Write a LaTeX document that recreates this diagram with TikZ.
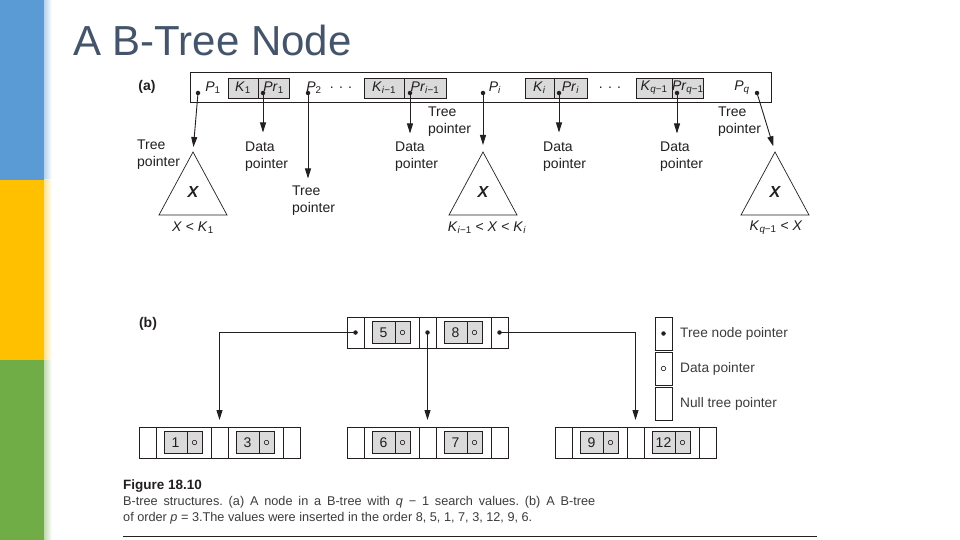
\documentclass[tikz,border=0pt]{standalone}
\usepackage{fontspec}
\setmainfont{Liberation Sans}
\usetikzlibrary{arrows.meta,
                positioning
            }

\definecolor{barblue}{HTML}{5B9BD5}
\definecolor{baryellow}{HTML}{FFC000}
\definecolor{bargreen}{HTML}{70AD47}
\definecolor{titlegray}{HTML}{44546A}
\definecolor{cellgray}{HTML}{DADADA}
\definecolor{ink}{HTML}{231F20}
\definecolor{capgray}{HTML}{3C3C3C}

\newcommand\ptrfont{\fontsize{14}{17}\selectfont}
\newcommand\capfont{\fontsize{12.7}{16}\selectfont\frenchspacing}
\newcommand\sv[2]{\textit{#1}\textsubscript{#2}}

\tikzset{
    cellframe/.style={draw=ink, line width=0.9pt, outer sep=0pt, inner sep=0pt},
    graycell/.style={cellframe, fill=cellgray, minimum height=20, font=\ptrfont, text=ink},
    ptrcell/.style={cellframe, minimum width=17, minimum height=31},
    datacell/.style={cellframe, minimum width=55, minimum height=31},
    keycell/.style={cellframe, fill=cellgray, minimum width=23, minimum height=22, font=\ptrfont, text=ink},
    dpcell/.style={cellframe, fill=cellgray, minimum width=15, minimum height=22},
    ptrdot/.style={circle, fill=ink, inner sep=0pt, minimum size=4.5},
    datadot/.style={circle, draw=ink, line width=0.6pt, inner sep=0pt, minimum size=4.5},
    arr/.style={draw=ink, line width=0.9pt, -{Triangle[length=10pt, width=6pt]}},
    subtree/.style={draw=ink, line width=0.7pt},
    ptrlabel/.style={font=\ptrfont, text=ink, align=left, inner sep=0pt, anchor=north west},
    freelabel/.style={font=\ptrfont, text=ink},
    legtext/.style={font=\fontsize{13.7}{16}\selectfont, text=capgray, inner sep=0pt, anchor=west}
}

\begin{document}
\begin{tikzpicture}[x=1pt, y=-1pt]
    \useasboundingbox (0,0) rectangle (960,540);
    \fill[white] (0,0) rectangle (960,540);

    \fill[barblue] (0,0) rectangle (44,180);
    \fill[baryellow] (0,180) rectangle (44,360);
    \fill[bargreen] (0,360) rectangle (44,540);
    \shade[left color=barblue!45, right color=white] (44,0) rectangle (52,180);
    \shade[left color=baryellow!45, right color=white] (44,180) rectangle (52,360);
    \shade[left color=bargreen!45, right color=white] (44,360) rectangle (52,540);

    \node[font=\fontsize{42}{42}\selectfont, text=titlegray, anchor=base west, inner sep=0pt] (title) at (73,56) {A B-Tree Node};

    \node[font=\bfseries\ptrfont, text=ink] (alabel) at (147,87) {(a)};
    \node[cellframe, minimum width=581, minimum height=30, anchor=north west] (anode) at (190,72) {};

    \node[graycell, minimum width=30, anchor=west] (k1) at (228,88) {\sv{K}{1}};
    \node[graycell, minimum width=31, right=0pt of k1] (pr1) {\sv{Pr}{1}};
    \node[graycell, minimum width=40, anchor=west] (ki1) at (364,88) {\sv{K}{\textit{i}−1}};
    \node[graycell, minimum width=42, right=0pt of ki1] (pri1) {\sv{Pr}{\textit{i}−1}};
    \node[graycell, minimum width=29, anchor=west] (ki) at (525,88) {\sv{K}{\textit{i}}};
    \node[graycell, minimum width=33, right=0pt of ki] (pri) {\sv{Pr}{\textit{i}}};
    \node[graycell, minimum width=36, anchor=west] (kq) at (636,88) {\sv{K}{\textit{q}−1}};
    \node[graycell, minimum width=27, right=0pt of kq] (prq) {\sv{Pr}{\textit{q}−1}};

    \node[freelabel] (p1) at (213,88) {\sv{P}{1}};
    \node[freelabel] (p2) at (314,88) {\sv{P}{2}};
    \node[freelabel] (dotsa) at (341,88) {. . .};
    \node[freelabel] (pi) at (495,88) {\sv{P}{\textit{i}}};
    \node[freelabel] (dotsb) at (610,88) {. . .};
    \node[freelabel] (pq) at (742,88) {\sv{P}{\textit{q}}};

    \node[ptrdot] (p1-dot) at (198,93) {};
    \node[ptrdot] (p2-dot) at (308,93) {};
    \node[ptrdot] (pi-dot) at (483,93) {};
    \node[ptrdot] (pq-dot) at (757,93) {};
    \node[ptrdot] (pr1-dot) at ([xshift=5pt, yshift=-5pt]pr1.west) {};
    \node[ptrdot] (pri1-dot) at ([xshift=6pt, yshift=-5pt]pri1.west) {};
    \node[ptrdot] (pri-dot) at ([xshift=5pt, yshift=-5pt]pri.west) {};
    \node[ptrdot] (prq-dot) at ([xshift=5pt, yshift=-5pt]prq.west) {};

    \node[ptrlabel] (t1-lbl) at (137,139.5) {Tree\\pointer};
    \node[ptrlabel] (pr1-lbl) at (245,141.5) {Data\\pointer};
    \node[ptrlabel] (p2-lbl) at (292,185.5) {Tree\\pointer};
    \node[ptrlabel] (pri1-lbl) at (395,141.5) {Data\\pointer};
    \node[ptrlabel] (pi-lbl) at (428,106.5) {Tree\\pointer};
    \node[ptrlabel] (pri-lbl) at (543,141.5) {Data\\pointer};
    \node[ptrlabel] (prq-lbl) at (660,141.5) {Data\\pointer};
    \node[ptrlabel] (pq-lbl) at (718,106.5) {Tree\\pointer};

    \coordinate (t1) at (193,152);
    \coordinate (t2) at (483,152);
    \coordinate (t3) at (775,152);
    \draw[subtree] (t1) -- ++(34,63) -- ++(-68,0) -- cycle;
    \draw[subtree] (t2) -- ++(34,63) -- ++(-68,0) -- cycle;
    \draw[subtree] (t3) -- ++(34,63) -- ++(-68,0) -- cycle;
    \node[font=\bfseries\itshape\fontsize{16}{16}\selectfont, text=ink] (t1-x) at (193,192) {X};
    \node[font=\bfseries\itshape\fontsize{16}{16}\selectfont, text=ink] (t2-x) at (483,192) {X};
    \node[font=\bfseries\itshape\fontsize{16}{16}\selectfont, text=ink] (t3-x) at (775,192) {X};
    \node[freelabel] (t1-cond) at (193,228) {\textit{X} < \sv{K}{1}};
    \node[freelabel] (t2-cond) at (487,228) {\sv{K}{\textit{i}−1} < \textit{X} < \sv{K}{\textit{i}}};
    \node[freelabel] (t3-cond) at (776,228) {\sv{K}{\textit{q}−1} < \textit{X}};

    \draw[arr, shorten >=5pt] (p1-dot.center) -- (t1);
    \draw[arr, shorten >=9pt] (pr1-dot.center) -- (pr1-dot |- pr1-lbl.north);
    \draw[arr, shorten >=7pt] (p2-dot.center) -- (p2-dot |- p2-lbl.north);
    \draw[arr, shorten >=8pt] (pri1-dot.center) -- (pri1-dot |- pri1-lbl.north);
    \draw[arr, shorten >=7pt] (pi-dot.center) -- (t2);
    \draw[arr, shorten >=9pt] (pri-dot.center) -- (pri-dot |- pri-lbl.north);
    \draw[arr, shorten >=8pt] (prq-dot.center) -- (prq-dot |- prq-lbl.north);
    \draw[arr, shorten >=6pt] (pq-dot.center) -- (t3);

    \node[font=\bfseries\ptrfont, text=ink] (blabel) at (148,324) {(b)};

    \foreach \n/\x/\y/\ka/\kb in {root/347/317/5/8, leafa/139/427/1/3, leafb/347/427/6/7, leafc/555/427/9/12} {
        \node[ptrcell, anchor=north west] (\n-p0) at (\x,\y) {};
        \node[datacell, right=0pt of \n-p0] (\n-d1) {};
        \node[ptrcell, right=0pt of \n-d1] (\n-p1) {};
        \node[datacell, right=0pt of \n-p1] (\n-d2) {};
        \node[ptrcell, right=0pt of \n-d2] (\n-p2) {};
        \node[keycell, right=8pt of \n-d1.west] (\n-k1) {\ka};
        \node[dpcell, right=0pt of \n-k1] (\n-r1) {};
        \node[keycell, right=8pt of \n-d2.west] (\n-k2) {\kb};
        \node[dpcell, right=0pt of \n-k2] (\n-r2) {};
        \node[datadot] (\n-o1) at (\n-r1) {};
        \node[datadot] (\n-o2) at (\n-r2) {};
    }
    \foreach \c in {p0,p1,p2}
        \node[ptrdot] (root-\c-dot) at (root-\c) {};

    \draw[arr, shorten >=7pt] (root-p0-dot.center) -| (leafa-p1.north);
    \draw[arr, shorten >=7pt] (root-p1-dot.center) -- (leafb-p1.north);
    \draw[arr, shorten >=7pt] (root-p2-dot.center) -| (leafc-p1.north);

    \node[ptrcell, minimum height=33, anchor=north west] (lg-tree) at (655,317) {};
    \node[ptrcell, minimum height=33, below=2pt of lg-tree] (lg-data) {};
    \node[ptrcell, minimum height=33, below=2pt of lg-data] (lg-null) {};
    \node[ptrdot] (lg-tree-dot) at (lg-tree) {};
    \node[datadot] (lg-data-dot) at (lg-data) {};
    \node[legtext, right=8pt of lg-tree] (lg-tree-txt) {Tree node pointer};
    \node[legtext, right=8pt of lg-data] (lg-data-txt) {Data pointer};
    \node[legtext, right=8pt of lg-null] (lg-null-txt) {Null tree pointer};

    \node[font=\bfseries\fontsize{13.5}{16}\selectfont, text=ink, anchor=base west, inner sep=0pt] (cap-head) at (123,489) {Figure 18.10};
    \node[font=\capfont, text=capgray, anchor=base west, inner sep=0pt] (cap-l1) at (123,505) {\makebox[472pt][s]{B-tree structures. (a) A node in a B-tree with \textit{q} − 1 search values. (b) A B-tree}};
    \node[font=\capfont, text=capgray, anchor=base west, inner sep=0pt] (cap-l2) at (123,521) {of order \textit{p} = 3.The values were inserted in the order 8, 5, 1, 7, 3, 12, 9, 6.};
    \draw[ink, line width=0.8pt] (123,536) -- (817,536);
\end{tikzpicture}
\end{document}
